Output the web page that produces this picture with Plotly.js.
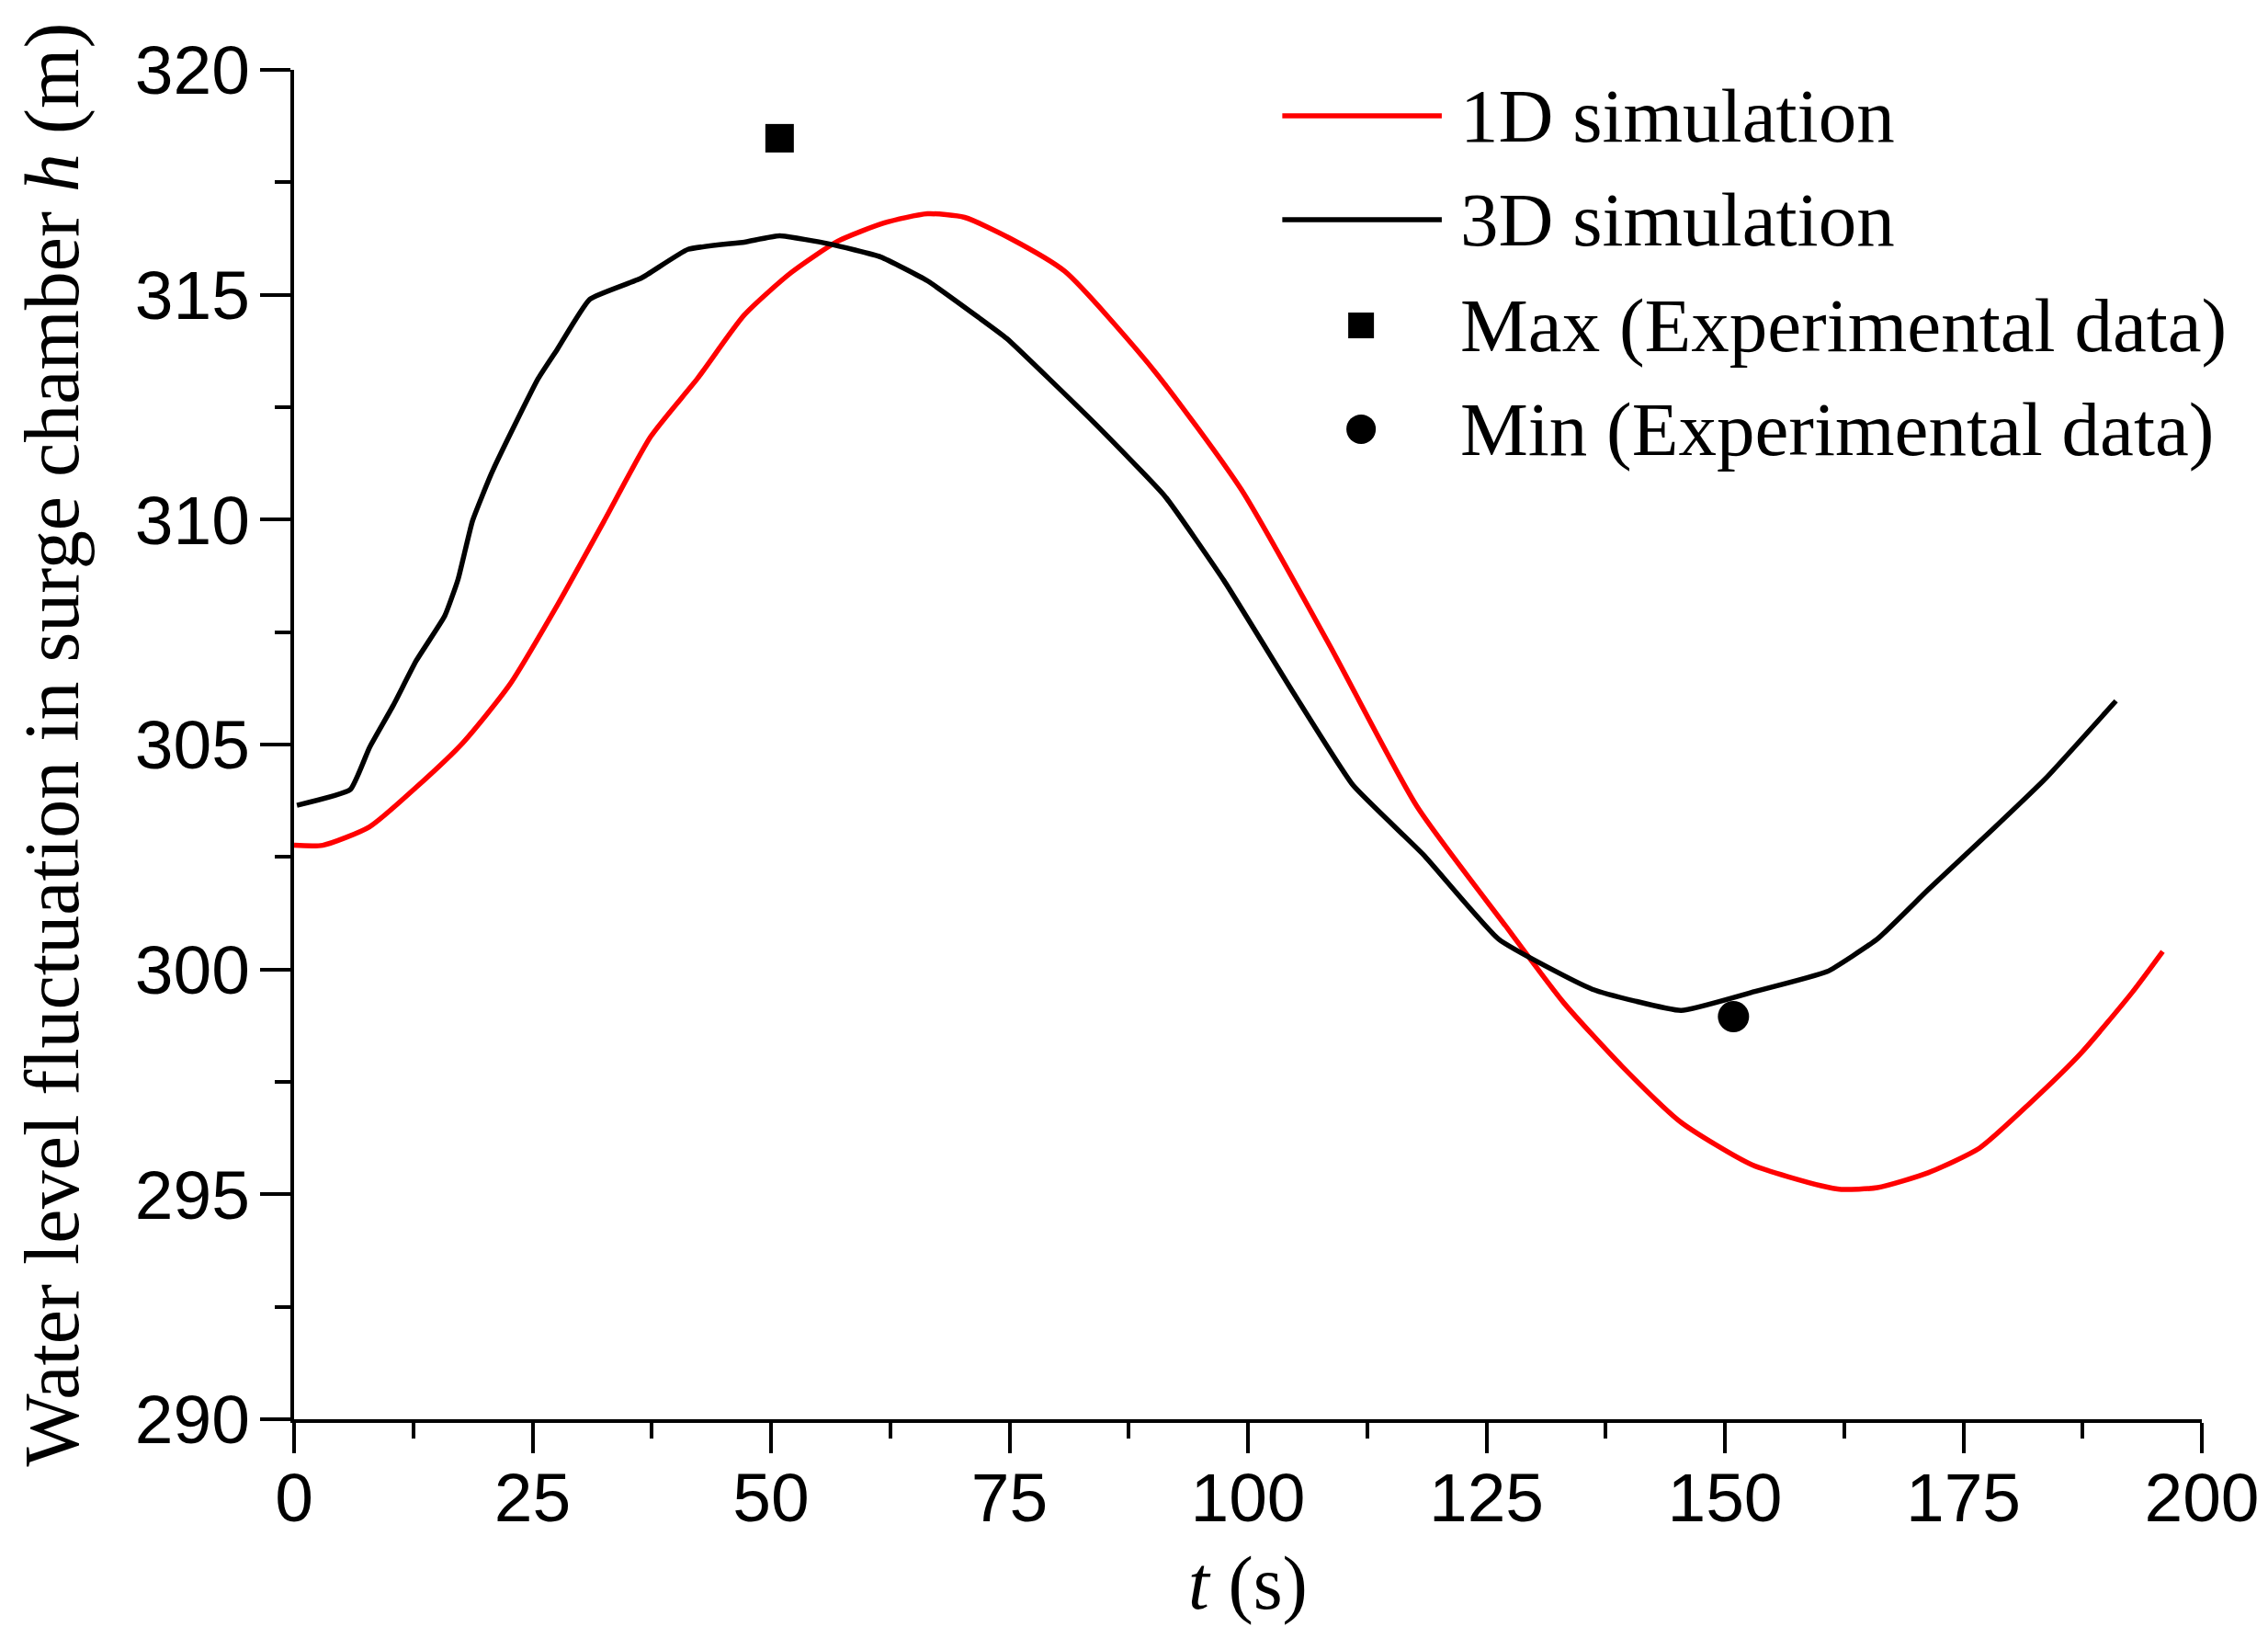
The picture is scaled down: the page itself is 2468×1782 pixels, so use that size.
<!DOCTYPE html>
<html>
<head>
<meta charset="utf-8">
<script src="https://cdn.plot.ly/plotly-3.0.1.min.js"></script>
<style>
  html, body { margin: 0; padding: 0; background: #fff; }
  #chart { width: 2468px; height: 1782px; }
</style>
</head>
<body>
<div id="chart"></div>
<script>
// 1D simulation (red)
const t1D = [0, 3, 7.9, 12.8, 17.7, 22.6, 27.6, 32.5, 37.4, 42.3, 47.2, 52.1, 57, 61.9, 66.4, 70.3,
  75.1, 80.8, 90.1, 99.3, 108.5, 117.7, 127, 133.1, 139.2, 145.4, 152.8, 160.1, 162.2, 166,
  171.3, 176.7, 182, 187.3, 192.7, 195.9];
const h1D = [302.76, 302.76, 303.17, 304.05, 305.04, 306.33, 308.1, 309.97, 311.85, 313.14, 314.55,
  315.49, 316.19, 316.6, 316.8, 316.72, 316.25, 315.52, 313.33, 310.67, 307.23, 303.63, 300.97,
  299.26, 297.85, 296.6, 295.66, 295.19, 295.11, 295.15, 295.48, 296.03, 297.03, 298.13, 299.49, 300.4];

// 3D simulation (black)
const t3D = [0.3, 5.9, 7.9, 10.4, 12.8, 15.8, 17.2, 18.7, 20.7, 23.1, 25.6, 27.6, 31, 36.4, 41.3,
  47.2, 50.9, 56.1, 61.5, 66.4, 71.8, 74.7, 83.9, 91.3, 97.5, 104.8, 111, 118.4, 126.3, 136.1,
  145.4, 152.8, 160.7, 166, 171.3, 178.2, 183.6, 191];
const h3D = [303.65, 304.0, 304.93, 305.87, 306.86, 307.86, 308.68, 309.97, 311.03, 312.09, 313.14,
  313.79, 314.9, 315.37, 316.01, 316.17, 316.31, 316.13, 315.84, 315.31, 314.49, 314.03, 312.15,
  310.52, 308.64, 306.14, 304.1, 302.55, 300.67, 299.56, 299.09, 299.49, 299.95, 300.68, 301.77,
  303.14, 304.24, 305.97];

// experimental data
const tMax = [50.9];
const hMax = [318.48];
const tMin = [150.9];
const hMin = [298.95];

const legendNames = ['1D simulation', '3D simulation', 'Max (Experimental data)', 'Min (Experimental data)'];

const serif = 'Liberation Serif, Times New Roman, serif';
const sans = 'Liberation Sans, Arial, sans-serif';

const traces = [
  { x: t1D, y: h1D, name: legendNames[0], mode: 'lines', line: { color: '#ff0000', width: 5.5, shape: 'spline', smoothing: 0.6 } },
  { x: t3D, y: h3D, name: legendNames[1], mode: 'lines', line: { color: '#000000', width: 5.5, shape: 'spline', smoothing: 0.4 } },
  { x: tMax, y: hMax, name: legendNames[2], mode: 'markers', marker: { symbol: 'square', size: 31, color: '#000' } },
  { x: tMin, y: hMin, name: legendNames[3], mode: 'markers', marker: { symbol: 'circle', size: 34, color: '#000' } }
];

// hand-made legend (long line samples like the original)
const rowsY = [0.966, 0.889, 0.8106, 0.7337];
const shapes = [
  { type: 'line', xref: 'paper', yref: 'paper', x0: 0.518, x1: 0.6016, y0: rowsY[0], y1: rowsY[0], line: { color: '#ff0000', width: 5.5 } },
  { type: 'line', xref: 'paper', yref: 'paper', x0: 0.518, x1: 0.6016, y0: rowsY[1], y1: rowsY[1], line: { color: '#000', width: 5.5 } },
  { type: 'rect', xref: 'paper', yref: 'paper', xsizemode: 'pixel', ysizemode: 'pixel',
    xanchor: 0.5593, yanchor: rowsY[2], x0: -14, x1: 14, y0: -14, y1: 14, fillcolor: '#000', line: { width: 0 } },
  { type: 'circle', xref: 'paper', yref: 'paper', xsizemode: 'pixel', ysizemode: 'pixel',
    xanchor: 0.5593, yanchor: rowsY[3], x0: -16, x1: 16, y0: -16, y1: 16, fillcolor: '#000', line: { width: 0 } }
];
const annotations = legendNames.map((n, i) => ({
  xref: 'paper', yref: 'paper', x: 0.6103, y: rowsY[i], xanchor: 'left', yanchor: 'middle',
  text: n, showarrow: false, font: { family: serif, size: 83, color: '#000' }
}));

const layout = {
  width: 2468,
  height: 1782,
  margin: { l: 320, r: 72, t: 76, b: 238 },
  paper_bgcolor: '#fff',
  plot_bgcolor: '#fff',
  showlegend: false,
  xaxis: {
    range: [0, 200], tick0: 0, dtick: 25,
    showgrid: false, zeroline: false,
    showline: true, linecolor: '#000', linewidth: 4,
    ticks: 'outside', ticklen: 33, tickwidth: 4, tickcolor: '#000',
    ticklabelstandoff: -16,
    minor: { dtick: 12.5, ticks: 'outside', ticklen: 17, tickwidth: 4, tickcolor: '#000', showgrid: false },
    tickfont: { family: sans, size: 75, color: '#000' },
    title: { text: '<i>t</i> (s)', font: { family: serif, size: 82, color: '#000' }, standoff: 24 }
  },
  yaxis: {
    range: [290, 320], tick0: 290, dtick: 5,
    showgrid: false, zeroline: false,
    showline: true, linecolor: '#000', linewidth: 4,
    ticks: 'outside', ticklen: 33, tickwidth: 4, tickcolor: '#000',
    ticklabelstandoff: -4,
    minor: { dtick: 2.5, ticks: 'outside', ticklen: 17, tickwidth: 4, tickcolor: '#000', showgrid: false },
    tickfont: { family: sans, size: 75, color: '#000' },
    title: { text: 'Water level fluctuation in surge chamber <i>h</i> (m)', font: { family: serif, size: 84, color: '#000' }, standoff: 34 }
  },
  shapes: shapes,
  annotations: annotations
};

Plotly.newPlot('chart', traces, layout, { displayModeBar: false, staticPlot: true });
</script>
</body>
</html>
